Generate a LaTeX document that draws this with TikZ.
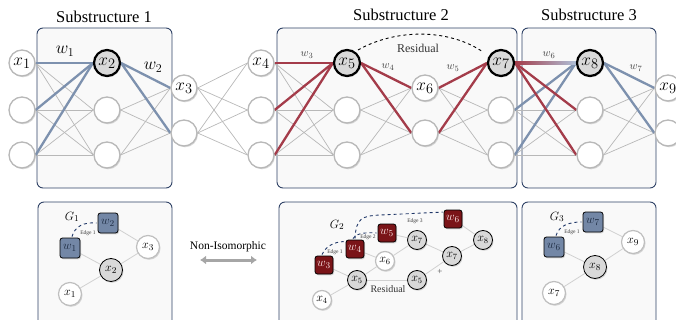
\documentclass[tikz,border=0pt]{standalone}
\usepackage{fontspec}
\setmainfont{Liberation Serif}
\usetikzlibrary{shadows,arrows.meta,calc}

\definecolor{boxline}{HTML}{2F4266}
\definecolor{boxfill}{HTML}{F9F9F9}
\definecolor{wblue}{HTML}{7D91AE}
\definecolor{wbluelight}{HTML}{AFC0D8}
\definecolor{wred}{HTML}{A43C4A}
\definecolor{sqredfill}{HTML}{7A1418}
\definecolor{sqbluefill}{HTML}{7387A6}
\definecolor{nodegray}{HTML}{D9D9D9}
\definecolor{edgegray}{HTML}{B8B8B8}
\definecolor{dashblue}{HTML}{1F3768}
\definecolor{wtext}{HTML}{1C2A40}

\pgfdeclarelayer{boxes}
\pgfdeclarelayer{edges}
\pgfsetlayers{boxes,edges,main}

\begin{document}
\begin{tikzpicture}[x=1pt,y=-1pt,
  softshadow/.style={drop shadow={opacity=0.3, shadow xshift=1pt, shadow yshift=-1.3pt}},
  neuron/.style={circle, minimum size=26pt, inner sep=0pt, draw=black!28, line width=1.3pt,
    fill=white, softshadow, font=\fontsize{19}{19}\selectfont},
  hotneuron/.style={neuron, draw=black, line width=2.2pt, fill=nodegray},
  gnode/.style={circle, minimum size=23pt, inner sep=0pt, draw=black!25, line width=1.2pt,
    fill=white, softshadow, font=\fontsize{13}{13}\selectfont},
  ghot/.style={gnode, draw=black, line width=0.8pt, fill=nodegray},
  gnodesm/.style={gnode, minimum size=19pt, font=\fontsize{12}{12}\selectfont},
  ghotsm/.style={ghot, minimum size=19pt, font=\fontsize{12}{12}\selectfont},
  sqb/.style={rectangle, rounded corners=2.5pt, minimum size=20pt, inner sep=0pt, draw=black,
    line width=0.8pt, fill=sqbluefill, text=wtext, softshadow, font=\fontsize{13}{13}\selectfont},
  sqr/.style={sqb, minimum size=18pt, fill=sqredfill, text=red!8!white, font=\fontsize{12.5}{13}\selectfont},
  subbox/.style={draw=boxline, fill=boxfill, line width=0.9pt, rounded corners=6pt},
  title/.style={font=\fontsize{16.5}{17}\selectfont},
  thinedge/.style={draw=edgegray, line width=0.7pt},
  gedge/.style={draw=black!18, line width=0.8pt},
  blueedge/.style={draw=wblue, line width=2.3pt},
  rededge/.style={draw=wred, line width=2.3pt},
  wbig/.style={font=\fontsize{17}{17}\selectfont},
  wsmall/.style={font=\fontsize{11}{11}\selectfont, text=black!75},
  edgedash/.style={draw=dashblue, dashed, line width=0.9pt},
  edgelbl/.style={font=\fontsize{5.5}{6}\selectfont, text=black!75, inner sep=0.5pt},
  glabel/.style={font=\fontsize{13}{13}\selectfont},
]
\useasboundingbox (0,0) rectangle (676,320);

% ---------------- substructure frames ----------------
\begin{pgfonlayer}{boxes}
  \draw[subbox] (37,28) rectangle (172,188);
  \draw[subbox] (277,28) rectangle (517,188);
  \draw[subbox] (522,28) rectangle (656,188);
  \draw[subbox] (38,202) rectangle (172,335);
  \draw[subbox] (279,202) rectangle (517,335);
  \draw[subbox] (522,202) rectangle (656,335);
\end{pgfonlayer}

\node[title] (t1) at (104,17) {Substructure 1};
\node[title] (t2) at (401,15) {Substructure 2};
\node[title] (t3) at (589,15) {Substructure 3};

% ---------------- network layers ----------------
\node[neuron]    (A1) at (22,63)  {$x_1$};
\node[neuron]    (A2) at (22,110) {};
\node[neuron]    (A3) at (22,155) {};
\node[hotneuron] (B1) at (107,63) {$x_2$};
\node[neuron]    (B2) at (107,110) {};
\node[neuron]    (B3) at (107,155) {};
\node[neuron]    (C1) at (184,88) {$x_3$};
\node[neuron]    (C2) at (184,133) {};
\node[neuron]    (D1) at (261,63) {$x_4$};
\node[neuron]    (D2) at (261,110) {};
\node[neuron]    (D3) at (261,155) {};
\node[hotneuron] (E1) at (347,63) {$x_5$};
\node[neuron]    (E2) at (347,110) {};
\node[neuron]    (E3) at (347,155) {};
\node[neuron]    (F1) at (425,88) {$x_6$};
\node[neuron]    (F2) at (425,133) {};
\node[hotneuron] (G1) at (501,63) {$x_7$};
\node[neuron]    (G2) at (501,110) {};
\node[neuron]    (G3) at (501,155) {};
\node[hotneuron] (H1) at (590,63) {$x_8$};
\node[neuron]    (H2) at (590,110) {};
\node[neuron]    (H3) at (590,155) {};
\node[neuron]    (I1) at (668,88) {$x_9$};
\node[neuron]    (I2) at (668,133) {};

\begin{pgfonlayer}{edges}
  % dense gray connections
  \foreach \a/\b in {A/B,D/E,G/H}
    \foreach \i in {1,2,3}
      \foreach \j in {1,2,3}
        \draw[thinedge] (\a\i.east) -- (\b\j.west);
  \foreach \a/\b in {B/C,E/F,H/I}
    \foreach \i in {1,2,3}
      \foreach \j in {1,2}
        \draw[thinedge] (\a\i.east) -- (\b\j.west);
  \foreach \a/\b in {C/D,F/G}
    \foreach \i in {1,2}
      \foreach \j in {1,2,3}
        \draw[thinedge] (\a\i.east) -- (\b\j.west);
  % substructure 1
  \foreach \i in {1,2,3} \draw[blueedge] (A\i.east) -- (B1.west);
  \draw[blueedge] (B1.east) -- (C1.west);
  \draw[blueedge] (B1.east) -- (C2.west);
  % substructure 2
  \foreach \i in {1,2,3} \draw[rededge] (D\i.east) -- (E1.west);
  \draw[rededge] (E1.east) -- (F1.west);
  \draw[rededge] (E1.east) -- (F2.west);
  \draw[rededge] (F1.east) -- (G1.west);
  \draw[rededge] (F2.east) -- (G1.west);
  % substructure 3
  \draw[blueedge] (G2.east) -- (H1.west);
  \draw[blueedge] (G3.east) -- (H1.west);
  \draw[rededge] (G1.east) -- (H2.west);
  \draw[rededge] (G1.east) -- (H3.west);
  \shade[left color=wred, right color=wbluelight]
    ($(G1.east)+(0,-1.15)$) rectangle ($(H1.west)+(0,1.15)$);
  \draw[blueedge] (H1.east) -- (I1.west);
  \draw[blueedge] (H1.east) -- (I2.west);
\end{pgfonlayer}

% weight labels
\node[wbig]   (lw1) at (65,51)  {$w_1$};
\node[wbig]   (lw2) at (153,67) {$w_2$};
\node[wsmall] (lw3) at (307,55) {$w_3$};
\node[wsmall] (lw4) at (388,67) {$w_4$};
\node[wsmall] (lw5) at (453,68) {$w_5$};
\node[wsmall] (lw6) at (549,55) {$w_6$};
\node[wsmall] (lw7) at (636,68) {$w_7$};

% residual link
\draw[dashed, line width=0.9pt] ($(E1)+(11,-13)$) .. controls (395,29) and (448,28) .. ($(G1)+(-18,-11)$);
\node[font=\fontsize{12}{12}\selectfont, text=black!80] (res) at (418,48) {Residual};

% ---------------- graph G1 ----------------
\node[glabel] (gl1) at (72,217) {$G_1$};
\node[sqb]  (p1w2) at (108,223) {$w_2$};
\node[sqb]  (p1w1) at (70,248)  {$w_1$};
\node[gnode] (p1x3) at (148,247) {$x_3$};
\node[ghot]  (p1x2) at (111,270) {$x_2$};
\node[gnode] (p1x1) at (70,294)  {$x_1$};
\begin{pgfonlayer}{edges}
  \draw[gedge] (p1w1) -- (p1x2);
  \draw[gedge] (p1w2) -- (p1x3);
  \draw[gedge] (p1x3) -- (p1x2);
  \draw[gedge] (p1x2) -- (p1x1);
\end{pgfonlayer}
\draw[edgedash] ($(p1w1.north)+(2,-1)$) .. controls (75,226) and (84,222) .. ($(p1w2.west)+(-1,0)$);
\node[edgelbl] (p1e1) at (88,233) {Edge 1};

% ---------------- comparison arrow ----------------
\node[font=\fontsize{11.5}{12}\selectfont] (noniso) at (228,247) {Non-Isomorphic};
\coordinate (arl) at (200,260);
\coordinate (arr) at (257,260);
\draw[{Latex[length=6pt,width=9pt]}-{Latex[length=6pt,width=9pt]}, line width=3pt, draw=black!35] (arl) -- (arr);

% ---------------- graph G2 ----------------
\node[glabel] (gl2) at (337,225) {$G_2$};
\node[sqr] (p2w3) at (324,265) {$w_3$};
\node[sqr] (p2w4) at (355,249) {$w_4$};
\node[sqr] (p2w5) at (387,233) {$w_5$};
\node[sqr] (p2w6) at (453,219) {$w_6$};
\node[ghotsm]  (p2x7a) at (417,240) {$x_7$};
\node[ghotsm]  (p2x8)  at (483,240) {$x_8$};
\node[gnodesm] (p2x6)  at (385,261) {$x_6$};
\node[ghotsm]  (p2x7b) at (452,256) {$x_7$};
\node[ghotsm]  (p2x5a) at (357,280) {$x_5$};
\node[ghotsm]  (p2x5b) at (417,280) {$x_5$};
\node[gnodesm] (p2x4)  at (322,300) {$x_4$};
\begin{pgfonlayer}{edges}
  \draw[gedge] (p2w3) -- (p2x5a);
  \draw[gedge] (p2x4) -- (p2x5a);
  \draw[gedge] (p2x5a) -- (p2x6);
  \draw[gedge] (p2w4) -- (p2x6);
  \draw[gedge] (p2x6) -- (p2x7a);
  \draw[gedge] (p2w5) -- (p2x7a);
  \draw[gedge] (p2x7a) -- (p2x7b);
  \draw[gedge] (p2x5b) -- (p2x7b);
  \draw[gedge] (p2x7b) -- (p2x8);
  \draw[gedge] (p2w6) -- (p2x8);
  \draw[gedge] (p2x5a) -- (p2x5b);
\end{pgfonlayer}
\draw[edgedash] ($(p2w3.north)+(-2,-1)$) .. controls (326,246) and (334,242) .. ($(p2w4.north west)+(-2,2)$);
\draw[edgedash] ($(p2w4.north)+(-2,-1)$) .. controls (355,234) and (364,232) .. ($(p2w5.west)+(-1,0)$);
\draw[edgedash] ($(p2w4.north)+(0,-1)$) .. controls (356,218) and (362,216) .. (380,215) -- ($(p2w6.north west)+(-1,2.5)$);
\node[edgelbl] (p2e1) at (335,252) {Edge 1};
\node[edgelbl] (p2e2) at (368,237) {Edge 2};
\node[edgelbl] (p2e3) at (415,221) {Edge 3};
\node[font=\fontsize{10}{10}\selectfont, text=black!80] (res2) at (388,289) {Residual};
\node[font=\fontsize{9}{9}\selectfont, text=black!70] (plus) at (440,272) {+};

% ---------------- graph G3 ----------------
\node[glabel] (gl3) at (557,217) {$G_3$};
\node[sqb]  (p3w7) at (593,222) {$w_7$};
\node[sqb]  (p3w6) at (554,247) {$w_6$};
\node[gnode] (p3x9) at (633,242) {$x_9$};
\node[ghot]  (p3x8) at (595,267) {$x_8$};
\node[gnode] (p3x7) at (554,293) {$x_7$};
\begin{pgfonlayer}{edges}
  \draw[gedge] (p3w6) -- (p3x8);
  \draw[gedge] (p3w7) -- (p3x9);
  \draw[gedge] (p3x9) -- (p3x8);
  \draw[gedge] (p3x8) -- (p3x7);
\end{pgfonlayer}
\draw[edgedash] ($(p3w6.north)+(2,-1)$) .. controls (559,226) and (568,222) .. ($(p3w7.west)+(-1,0)$);
\node[edgelbl] (p3e1) at (572,232) {Edge 1};

\end{tikzpicture}
\end{document}
